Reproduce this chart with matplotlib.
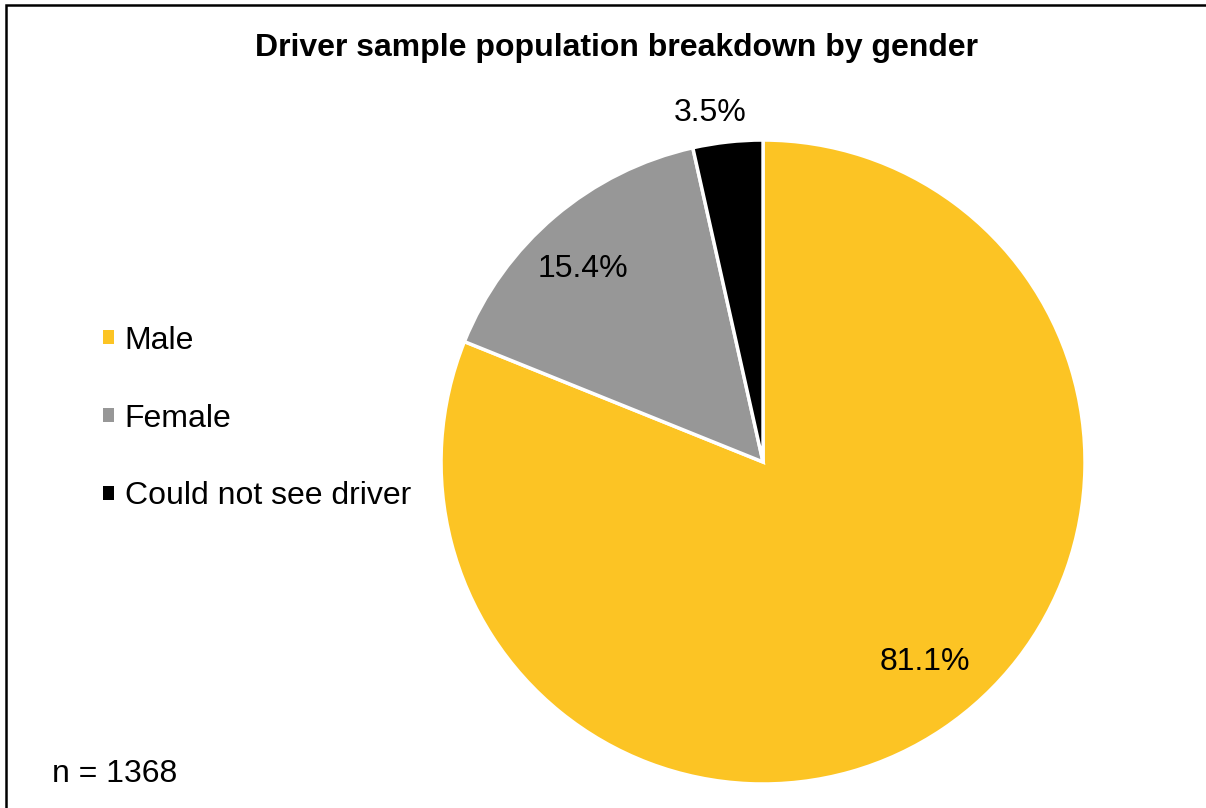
import numpy as np
import matplotlib.pyplot as plt
from matplotlib.patches import Patch, Rectangle
plt.switch_backend('agg')

plt.rcParams['font.family'] = ['Liberation Sans', 'DejaVu Sans']

labels = ['Male', 'Female', 'Could not see driver']
shares = [81.1, 15.4, 3.5]
colors = ['#FCC424', '#979797', '#000000']
# label placement: radius and angle nudge (degrees) from the wedge middle
label_r = [0.80, 0.82, 1.095]
label_shift = [5.0, 2.6, 2.3]

fig = plt.figure(figsize=(12.06, 8.08), dpi=100)

# frame (right/bottom edges fall outside the image, as in the original)
fig.patches.append(Rectangle((6 / 1206, -0.1), 1.2, 1 - 5.5 / 808 + 0.1,
                             transform=fig.transFigure, fill=False,
                             edgecolor='black', linewidth=1.8))

ax = fig.add_axes([0.3657, 0.0297, 0.534, 0.797])
wedges, _ = ax.pie(shares, colors=colors, startangle=90, counterclock=False,
                   wedgeprops=dict(edgecolor='white', linewidth=2.5))
ax.set_xlim(-1, 1)
ax.set_ylim(-1, 1)
ax.set_aspect('equal')

for w, s, r, d in zip(wedges, shares, label_r, label_shift):
    ang = np.deg2rad((w.theta1 + w.theta2) / 2 + d)
    ax.text(r * np.cos(ang), r * np.sin(ang), f'{s}%', ha='center', va='center',
            fontsize=23, color='black')

handles = [Patch(facecolor=c, edgecolor='none') for c in colors]
fig.legend(handles, labels, loc='center left', bbox_to_anchor=(0.0854, 0.482),
           frameon=False, fontsize=23, handlelength=0.36, handleheight=0.3,
           handletextpad=0.32, labelspacing=1.49, borderpad=0, borderaxespad=0)

fig.text(0.511, 0.941, 'Driver sample population breakdown by gender',
         ha='center', va='center', fontsize=23, fontweight='bold')
fig.text(52 / 1206, 1 - 774 / 808, 'n = 1368', ha='left', va='center', fontsize=23)

fig.savefig('out.png', dpi=100)
